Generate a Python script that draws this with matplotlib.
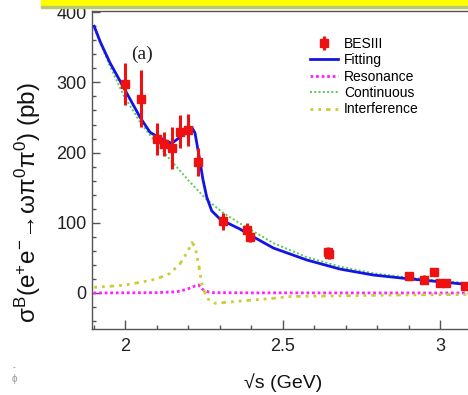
import numpy as np
import matplotlib
matplotlib.use("Agg")
import matplotlib.pyplot as plt
from matplotlib.patches import Rectangle
from matplotlib.ticker import MultipleLocator

plt.rcParams['font.family'] = ['Liberation Sans', 'DejaVu Sans']
plt.rcParams['mathtext.fontset'] = 'custom'
plt.rcParams['mathtext.rm'] = 'Liberation Sans'
plt.rcParams['mathtext.it'] = 'Liberation Sans:italic'
plt.rcParams['mathtext.bf'] = 'Liberation Sans:bold'

# data points (BESIII) ---------------------------
energy = [2.0, 2.05, 2.1, 2.125, 2.15, 2.175, 2.2, 2.2324, 2.3094, 2.3864,
          2.396, 2.6444, 2.6464, 2.9, 2.95, 2.981, 3.0, 3.02, 3.08]
xsec = [298, 277, 219, 212, 206, 230, 232, 186, 102, 90,
        80, 58, 55, 24, 19, 30, 14, 14, 10.5]
xsec_err = [30, 40, 23, 17, 30, 24, 23, 20, 12, 10,
            7, 7, 6, 3, 6, 5, 3, 3, 3]

# fit curves -------------------------------------
fit_x = [1.902, 1.921, 1.952, 1.995, 2.048, 2.079, 2.105, 2.148, 2.18, 2.20,
         2.212, 2.222, 2.236, 2.247, 2.259, 2.275, 2.302, 2.333, 2.365, 2.391,
         2.471, 2.577, 2.683, 2.788, 2.894, 3.0, 3.1]
fit_y = [380, 358, 328, 293, 250, 229, 222, 213, 224, 233,
         236, 228, 192, 162, 137, 117, 105, 98, 91, 84,
         64, 47, 34, 25.6, 20.5, 16, 11.5]

cont_x = [1.902, 1.952, 1.995, 2.048, 2.10, 2.153, 2.206, 2.259, 2.312, 2.365,
          2.471, 2.577, 2.683, 2.788, 2.894, 3.0, 3.1]
cont_y = [377, 323, 282, 243, 213, 185, 158, 133, 114, 99,
          71, 51, 37.5, 28, 22.3, 17.5, 13.6]

res_x = [1.9, 2.10, 2.153, 2.175, 2.203, 2.222, 2.233, 2.249, 2.265, 2.28, 2.4, 3.1]
res_y = [0, 0.5, 1.5, 2.5, 6.5, 10, 11.5, 4, 1.5, 0.5, 0.2, 0]

intf_x = [1.902, 1.995, 2.058, 2.10, 2.143, 2.175, 2.20, 2.212, 2.222, 2.233,
          2.243, 2.259, 2.286, 2.365, 2.471, 2.524, 2.84, 3.1]
intf_y = [8, 11, 16, 20, 28, 42, 60, 72, 66, 42,
          14, -7.6, -14.7, -11.5, -7.6, -5, -3, -2]

# figure -----------------------------------------
W, H = 468, 395
fig = plt.figure(figsize=(W/100, H/100), dpi=100)
ax = fig.add_axes([92/W, 1-329/H, (471.6-92)/W, 318/H])

# yellow strip at the top
fig.patches.append(Rectangle((41/W, 1-6/H), 1, 6/H, transform=fig.transFigure,
                             color='#ffff00', zorder=0))
fig.patches.append(Rectangle((41/W, 1-7.5/H), 1, 1.5/H, transform=fig.transFigure,
                             color='#b8c870', zorder=0))

ax.plot(cont_x, cont_y, color='#55cc55', lw=1.4, ls=(0, (1, 1.2)), label='Continuous', zorder=2)
ax.plot(fit_x, fit_y, color='#1414e6', lw=2, label='Fitting', zorder=3)
ax.plot(res_x, res_y, color='#ff22ff', lw=2, ls=(0, (1, 1)), label='Resonance', zorder=2)
ax.plot(intf_x, intf_y, color='#cccc33', lw=2, ls=(0, (1, 1.8, 1, 1.8, 1.6, 1.8)),
        label='Interference', zorder=2)
eb = ax.errorbar(energy, xsec, yerr=xsec_err, fmt='s', color='#ee1111', ms=5.8,
                 elinewidth=2.2, capsize=0, zorder=4, label='BESIII')

ax.set_xlim(1.895, 3.1)
ax.set_ylim(-51.3, 401.7)
ax.xaxis.set_major_locator(MultipleLocator(0.5))
ax.xaxis.set_minor_locator(MultipleLocator(0.1))
ax.yaxis.set_major_locator(MultipleLocator(100))
ax.yaxis.set_minor_locator(MultipleLocator(20))
ax.tick_params(which='both', direction='in', colors='#555555', labelcolor='#222222',
               labelsize=13, width=1)
ax.tick_params(axis='x', which='major', length=6.5, pad=6.5)
ax.tick_params(axis='x', which='minor', length=3.2)
ax.tick_params(axis='y', which='major', length=5.8, pad=4)
ax.tick_params(axis='y', which='minor', length=3.2)
ax.set_xticks([2, 2.5, 3])
ax.set_xticklabels(['2', '2.5', '3'])
for s in ax.spines.values():
    s.set_color('#555555')
    s.set_linewidth(1)

handles = [eb, ax.lines[1], ax.lines[2], ax.lines[0], ax.lines[3]]
labels = ['BESIII', 'Fitting', 'Resonance', 'Continuous', 'Interference']
ax.legend(handles, labels, loc='upper left', bbox_to_anchor=(310/W, 1-37/H),
          bbox_transform=fig.transFigure, frameon=False, fontsize=10,
          borderpad=0, borderaxespad=0, labelspacing=0.17, handlelength=2.0,
          handletextpad=0.45)

fig.text(142/W, 1-54/H, '(a)', family='Liberation Serif', fontsize=14,
         ha='center', va='center', color='#222222')
fig.text(28/W, 1-203/H,
         r'$\mathrm{\sigma^{B}(e^{+}e^{-}\!\rightarrow\!\omega\pi^{0}\pi^{0})\ (pb)}$',
         rotation=90, ha='center', va='center', fontsize=17.5, color='#111111')
fig.text(283/W, 1-383/H, '\u221as (GeV)', ha='center', va='center', fontsize=14,
         color='#111111')
fig.text(14/W, 1-379/H, '\u03d5', ha='center', va='center', fontsize=7, color='#999999')
fig.text(14/W, 1-368/H, '-', ha='center', va='center', fontsize=6, color='#777777')

fig.savefig('out.png', dpi=100)
